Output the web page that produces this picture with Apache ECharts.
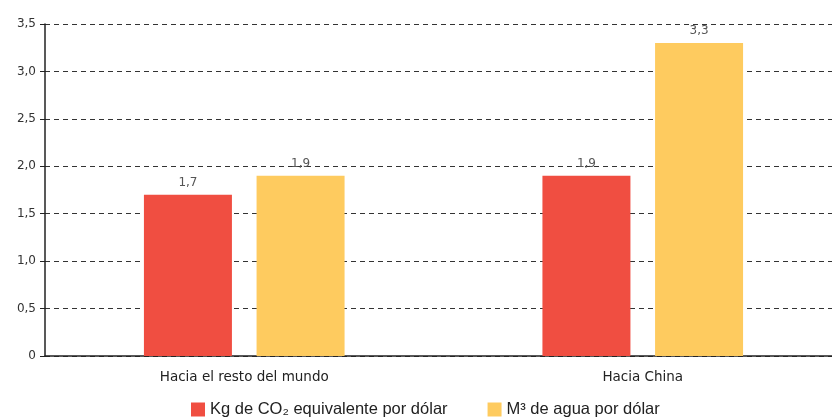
<!DOCTYPE html>
<html>
<head>
<meta charset="utf-8">
<script src="https://cdn.jsdelivr.net/npm/echarts@6/dist/echarts.min.js"></script>
<style>
  html, body { margin: 0; padding: 0; background: #fff; }
  #chart { width: 832px; height: 419px; }
</style>
</head>
<body>
<div id="chart"></div>
<script>
// datos
const categorias = ["Hacia el resto del mundo", "Hacia China"];
const co2 = [1.7, 1.9];
const agua = [1.9, 3.3];
const nombres = ["Kg de CO₂ equivalente por dólar", "M³ de agua por dólar"];

const coma = (v) => (v === 0 ? "0" : v.toFixed(1).replace(".", ","));

const chart = echarts.init(document.getElementById("chart"));

const etiqueta = {
  show: true,
  position: "top",
  distance: 6,
  fontSize: 12,
  color: "#555",
  fontFamily: "DejaVu Sans",
  formatter: (p) => coma(p.value),
};

chart.setOption({
  animation: false,
  textStyle: { fontFamily: "Liberation Sans, Arial, sans-serif" },
  // la rejilla sigue un poco más allá del borde derecho, como en el original
  grid: { left: 45, width: 797, top: 24, bottom: 63, containLabel: false, outerBoundsMode: "none" },
  legend: {
    left: 186,
    bottom: -4,
    itemWidth: 14,
    itemHeight: 14,
    itemGap: 40,
    icon: "rect",
    textStyle: { fontSize: 16.5, color: "#222" },
    data: nombres,
  },
  xAxis: {
    type: "category",
    data: categorias,
    axisTick: { show: false },
    axisLine: { lineStyle: { color: "#222", width: 1.5 } },
    axisLabel: { fontSize: 13.5, color: "#222", margin: 14, fontFamily: "DejaVu Sans" },
  },
  yAxis: {
    type: "value",
    min: 0,
    max: 3.5,
    interval: 0.5,
    axisLine: { show: true, lineStyle: { color: "#222", width: 1.5 } },
    axisTick: { show: true, length: 5, lineStyle: { color: "#222" } },
    axisLabel: { fontSize: 12, color: "#333", margin: 9, fontFamily: "DejaVu Sans", formatter: coma },
    splitLine: { lineStyle: { color: "#333", type: [5, 4], width: 1 } },
  },
  series: [
    {
      name: nombres[0],
      type: "bar",
      data: co2,
      barWidth: 88,
      barGap: "28%",
      itemStyle: { color: "#F04E41" },
      label: etiqueta,
    },
    {
      name: nombres[1],
      type: "bar",
      data: agua,
      barWidth: 88,
      itemStyle: { color: "#FECB5F" },
      label: etiqueta,
    },
  ],
});

window.addEventListener("resize", () => chart.resize());
</script>
</body>
</html>
